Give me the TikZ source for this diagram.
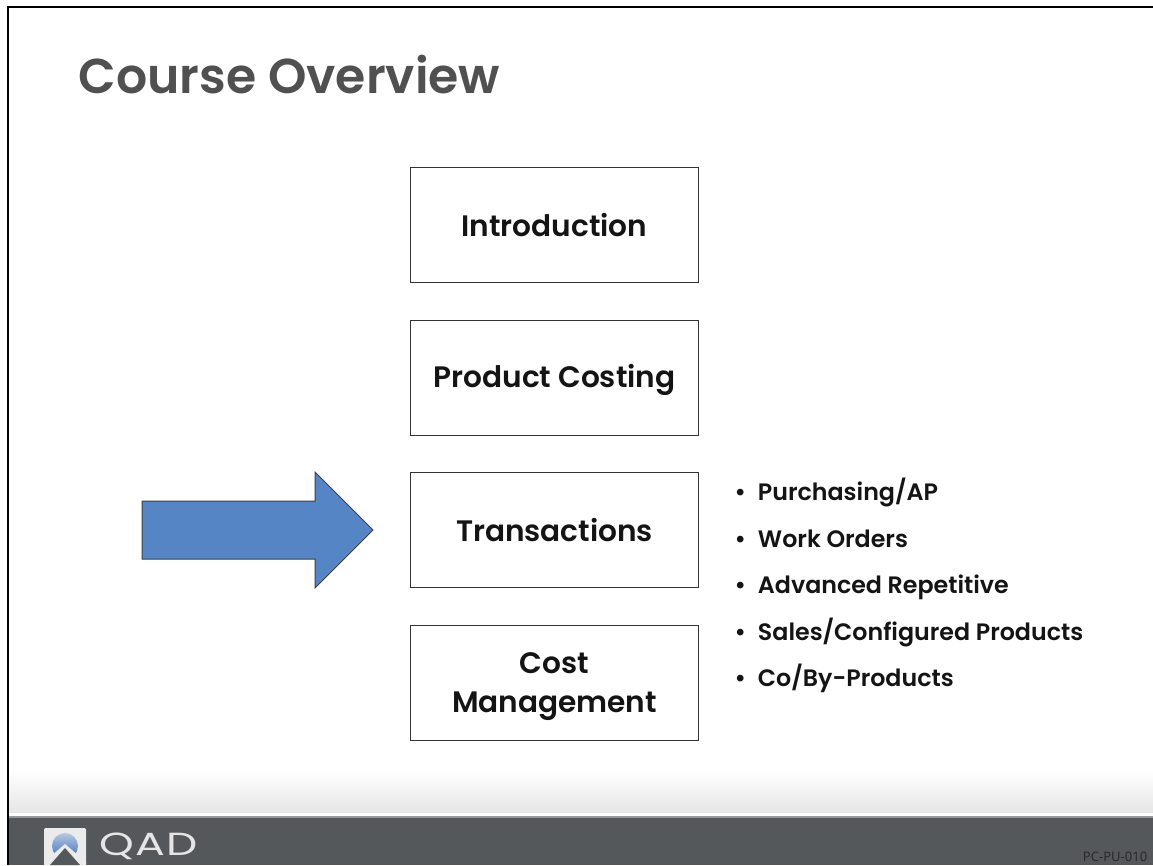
\documentclass[tikz,border=0pt]{standalone}
\usepackage{fontspec}
\setmainfont{Poppins}
\newfontfamily\foot{Open Sans}
\newfontfamily\boldf{Poppins SemiBold}
\definecolor{bar}{HTML}{54585A}
\definecolor{ttl}{HTML}{505050}
\definecolor{arrowblue}{HTML}{5585C5}
\definecolor{globetop}{HTML}{B8C8E0}
\definecolor{globebot}{HTML}{3A6FC0}
\newcommand{\bl}{•\hspace{0.5em}}
\tikzset{
 x=0.75pt,y=-0.75pt,
 topic/.style={draw=black!80,line width=0.8pt,fill=white,minimum width=216pt,minimum height=86pt,anchor=north west},
 topictext/.style={align=center,font=\boldf\fontsize{22.2}{29.5}\selectfont,text=black!92},
 sub/.style={anchor=west,font=\boldf\fontsize{17.8}{20}\selectfont,text=black!92}
}
\begin{document}
\begin{tikzpicture}
\useasboundingbox (0,0) rectangle (1153,865);
\fill[white] (0,0) rectangle (1153,865);
\shade[top color=white,bottom color=black!10] (8,770) rectangle (1153,813);
\fill[white] (8,813) rectangle (1153,816);
\fill[bar] (8,816) rectangle (1153,865);
\fill[black!40] (8,816) rectangle (1153,817.5);
\draw[black,line width=1.6pt] (8,865) -- (8,7) -- (1153,7);
\node[anchor=west,text=ttl,font=\boldf\fontsize{36.7}{40}\selectfont] (title) at (74,75) {Course Overview};
\node[topic] (a) at (410,167) {};
\node[topic] (b) at (410,320) {};
\node[topic] (c) at (410,472) {};
\node[topic] (d) at (410,625) {};
\node[topictext] (ta) at (554.5,225) {Introduction};
\node[topictext] (tb) at (554.5,380) {Product Costing};
\node[topictext] (tc) at (554.5,530) {Transactions};
\node[topictext] (td) at (554.5,686.5) {Cost\\Management};
\draw[draw=black!75,line width=0.75pt,fill=arrowblue] (142,501) -- (315,501) -- (315,472) -- (373,530) -- (315,588) -- (315,559) -- (142,559) -- cycle;
\node[sub] (s1) at (730,492) {\bl Purchasing/AP};
\node[sub] (s2) at (730,539) {\bl Work Orders};
\node[sub] (s3) at (730,587) {\bl Advanced Repetitive};
\node[sub] (s4) at (730,632) {\bl Sales/Configured Products};
\node[sub] (s5) at (730,678) {\bl Co/By-Products};
% logo
\fill[white!92!black,rounded corners=1pt] (44,828) rectangle (86,865);
\shade[top color=globetop,bottom color=globebot] (65,846) circle (13);
\fill[white!92!black] (65,844) -- (44,862) -- (44,865) -- (86,865) -- (86,862) -- cycle;
\fill[bar] (65,848) -- (50,865) -- (80,865) -- cycle;
\node[anchor=west,inner sep=0pt,xscale=1.38,text=white!90!black,font=\fontsize{24}{26}\selectfont\addfontfeature{LetterSpace=3}] (q) at (99,846) {QAD};
\node[anchor=east,text=black!85,font=\foot\fontsize{9.8}{10}\selectfont] (pc) at (1152,857) {PC-PU-010};
\end{tikzpicture}
\end{document}
